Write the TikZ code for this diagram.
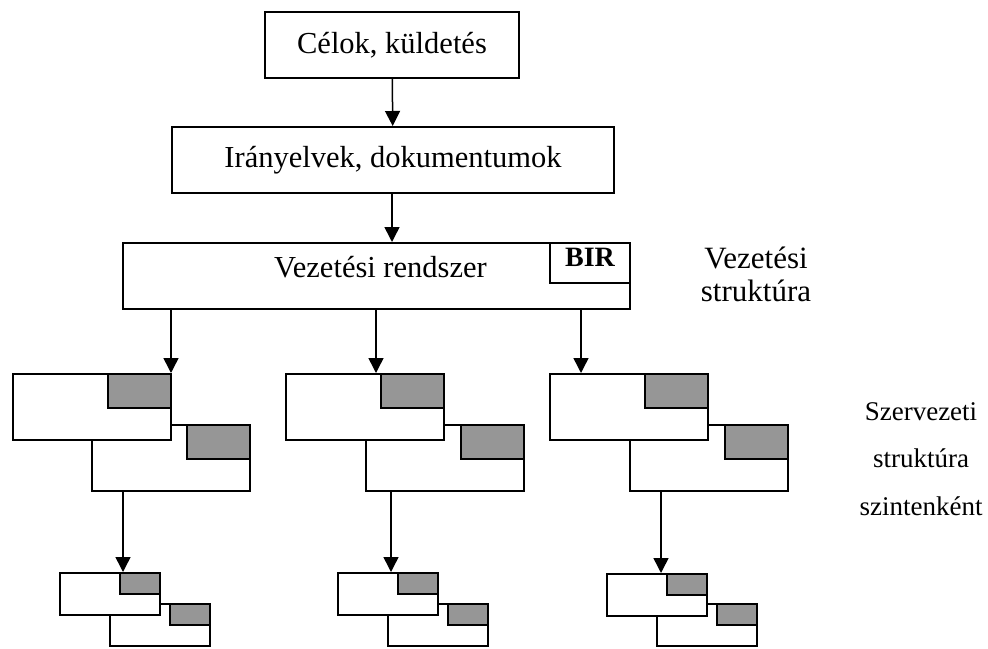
\documentclass[tikz,border=0pt]{standalone}
\usepackage{fontspec}
\setmainfont{Liberation Serif}
\usetikzlibrary{arrows.meta}
\definecolor{tabgray}{RGB}{150,150,150}

\begin{document}
\begin{tikzpicture}[x=1pt, y=-1pt,
  box/.style={draw, line width=2pt, fill=white, inner sep=0pt, anchor=north west},
  unit/.style={box, minimum width=158pt, minimum height=66pt},
  tab/.style={box, fill=tabgray, minimum width=63pt, minimum height=34pt, anchor=north east},
  smallunit/.style={box, minimum width=100pt, minimum height=42pt},
  smalltab/.style={box, fill=tabgray, minimum width=40pt, minimum height=21pt, anchor=north east},
  arr/.style={line width=1.5pt, -{Triangle[length=15pt, width=15pt]}},
  txt/.style={font=\fontsize{30.5}{33}\selectfont}]
\useasboundingbox (0,0) rectangle (988,648);
% upper chain
\node[box, txt, minimum width=254pt, minimum height=66pt] (celok) at (264,11) {Célok, küldetés};
\node[box, txt, minimum width=442pt, minimum height=66pt] (iranyelv) at (171,126) {Irányelvek, dokumentumok};
\node[box, minimum width=507pt, minimum height=66pt] (vez) at (122,242) {};
\node[txt, anchor=base] (veztext) at ([xshift=4pt, yshift=-35pt]vez.north) {Vezetési rendszer};
\node[box, minimum width=80pt, minimum height=40pt, anchor=north east] (bir) at (vez.north east) {};
\node[anchor=base, font=\bfseries\fontsize{28}{30}\selectfont] (birtext) at ([yshift=-24pt]bir.north) {BIR};
\draw[arr] (celok) -- (iranyelv);
\draw[arr] (iranyelv.south -| celok.south) -- (vez.north -| celok.south);
% first group
\node[unit] (g1b) at (91,424) {};
\node[tab] (g1bt) at (g1b.north east) {};
\node[unit] (g1a) at (12,373) {};
\node[tab] (g1at) at (g1a.north east) {};
\node[smallunit] (g1d) at (109,603) {};
\node[smalltab] (g1dt) at (g1d.north east) {};
\node[smallunit] (g1c) at (59,572) {};
\node[smalltab] (g1ct) at (g1c.north east) {};
% second group
\node[unit] (g2b) at (365,424) {};
\node[tab] (g2bt) at (g2b.north east) {};
\node[unit] (g2a) at (285,373) {};
\node[tab] (g2at) at (g2a.north east) {};
\node[smallunit] (g2d) at (387,603) {};
\node[smalltab] (g2dt) at (g2d.north east) {};
\node[smallunit] (g2c) at (337,572) {};
\node[smalltab] (g2ct) at (g2c.north east) {};
% third group
\node[unit] (g3b) at (629,424) {};
\node[tab] (g3bt) at (g3b.north east) {};
\node[unit] (g3a) at (549,373) {};
\node[tab] (g3at) at (g3a.north east) {};
\node[smallunit] (g3d) at (656,603) {};
\node[smalltab] (g3dt) at (g3d.north east) {};
\node[smallunit] (g3c) at (606,573) {};
\node[smalltab] (g3ct) at (g3c.north east) {};
% arrows to the groups
\coordinate (g1in) at ([xshift=-1pt]g1a.north east);
\coordinate (g2in) at ([xshift=91pt]g2a.north west);
\coordinate (g3in) at ([xshift=32pt]g3a.north west);
\draw[arr] (vez.south -| g1in) -- (g1in);
\draw[arr] (vez.south -| g2in) -- (g2in);
\draw[arr] (vez.south -| g3in) -- (g3in);
\coordinate (g1out) at ([xshift=32pt]g1b.south west);
\coordinate (g2out) at ([xshift=26pt]g2b.south west);
\coordinate (g3out) at ([xshift=32pt]g3b.south west);
\draw[arr] (g1out) -- (g1out |- g1c.north);
\draw[arr] (g2out) -- (g2out |- g2c.north);
\draw[arr] (g3out) -- (g3out |- g3c.north);
% side texts
\node[font=\fontsize{31}{33}\selectfont, align=center, anchor=base] (vezstr) at (756,301) {Vezetési\\struktúra};
\node[font=\fontsize{27}{47.5}\selectfont, align=center, anchor=base] (szervstr) at (921,515) {Szervezeti\\struktúra\\szintenként};
\end{tikzpicture}
\end{document}
